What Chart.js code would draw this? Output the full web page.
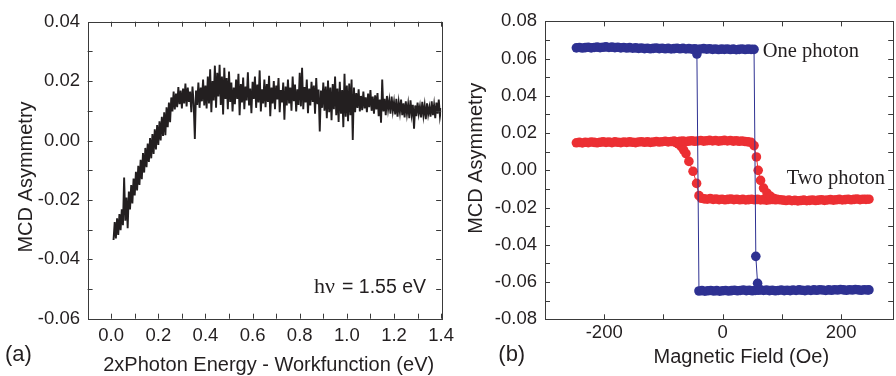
<!DOCTYPE html>
<html>
<head>
<meta charset="utf-8">
<script src="https://cdn.jsdelivr.net/npm/chart.js@4.4.1/dist/chart.umd.min.js"></script>
<style>
    html, body { margin: 0; padding: 0; background: #fff; }
    body { width: 896px; height: 376px; overflow: hidden; position: relative; }
    canvas { position: absolute; top: 0; }
    #spectrumChart { left: 0; }
    #loopChart { left: 460px; }
</style>
</head>
<body>
<canvas id="spectrumChart" width="460" height="376"></canvas>
<canvas id="loopChart" width="438" height="376"></canvas>
<script>
// Tick labels
const energyTicks = [0.0, 0.2, 0.4, 0.6, 0.8, 1.0, 1.2, 1.4];
const asymTicksA = [-0.06, -0.04, -0.02, 0.00, 0.02, 0.04];
const fieldTicks = [-200, 0, 200];
const asymTicksB = [-0.08, -0.06, -0.04, -0.02, 0.00, 0.02, 0.04, 0.06, 0.08];

// Panel (a): MCD asymmetry vs 2xPhoton energy - workfunction, sampled every 0.005 eV from 0.01 eV
const energyStart = 0.01;
const energyStep = 0.005;
const asymmetry = [
    -0.0335, -0.0275, -0.0330, -0.0262, -0.0318, -0.0248, -0.0302, -0.0232, -0.0285, -0.0125,
    -0.0270, -0.0192, -0.0295, -0.0172, -0.0232, -0.0150, -0.0212, -0.0128, -0.0185, -0.0105,
    -0.0168, -0.0085, -0.0150, -0.0065, -0.0130, -0.0042, -0.0108, -0.0025, -0.0090, -0.0010,
    -0.0072, 0.0008, -0.0060, 0.0022, -0.0045, 0.0038, -0.0030, 0.0052, -0.0015, 0.0065,
    0.0000, 0.0080, 0.0015, 0.0095, 0.0018, 0.0112, 0.0045, 0.0128, 0.0062, 0.0145,
    0.0098, 0.0165, 0.0105, 0.0158, 0.0112, 0.0180, 0.0122, 0.0168, 0.0108, 0.0175,
    0.0125, 0.0192, 0.0115, 0.0178, 0.0130, 0.0165, 0.0095, 0.0182, 0.0125, 0.0005,
    0.0168, 0.0120, 0.0195, 0.0110, 0.0178, 0.0132, 0.0205, 0.0118, 0.0185, 0.0108,
    0.0215, 0.0125, 0.0240, 0.0095, 0.0200, 0.0135, 0.0252, 0.0110, 0.0228, 0.0148,
    0.0255, 0.0120, 0.0215, 0.0088, 0.0245, 0.0140, 0.0210, 0.0105, 0.0232, 0.0130,
    0.0195, 0.0098, 0.0178, 0.0122, 0.0205, 0.0140, 0.0225, 0.0085, 0.0190, 0.0128,
    0.0212, 0.0105, 0.0182, 0.0135, 0.0230, 0.0118, 0.0175, 0.0092, 0.0198, 0.0140,
    0.0215, 0.0110, 0.0188, 0.0128, 0.0236, 0.0098, 0.0172, 0.0125, 0.0205, 0.0112,
    0.0190, 0.0130, 0.0218, 0.0082, 0.0178, 0.0125, 0.0200, 0.0105, 0.0185, 0.0138,
    0.0210, 0.0095, 0.0170, 0.0128, 0.0195, 0.0070, 0.0182, 0.0118, 0.0205, 0.0125,
    0.0178, 0.0100, 0.0215, 0.0132, 0.0188, 0.0098, 0.0172, 0.0120, 0.0228, 0.0115,
    0.0245, 0.0105, 0.0180, 0.0128, 0.0205, 0.0092, 0.0175, 0.0118, 0.0198, 0.0130,
    0.0185, 0.0090, 0.0210, 0.0122, 0.0172, 0.0030, 0.0168, 0.0110, 0.0195, 0.0100,
    0.0182, 0.0075, 0.0202, 0.0095, 0.0178, 0.0068, 0.0190, 0.0105, 0.0215, 0.0085,
    0.0175, 0.0062, 0.0198, 0.0090, 0.0170, 0.0045, 0.0225, 0.0080, 0.0185, 0.0065,
    0.0192, 0.0085, 0.0205, 0.0002, 0.0178, 0.0095, 0.0160, 0.0110, 0.0172, 0.0098,
    0.0150, 0.0102, 0.0165, 0.0108, 0.0145, 0.0095, 0.0158, 0.0112, 0.0170, 0.0100,
    0.0148, 0.0090, 0.0152, 0.0105, 0.0160, 0.0082, 0.0138, 0.0060, 0.0205, 0.0098,
    0.0140, 0.0085, 0.0150, 0.0105, 0.0135, 0.0090, 0.0148, 0.0100, 0.0130, 0.0088,
    0.0140, 0.0080, 0.0128, 0.0095, 0.0138, 0.0085, 0.0125, 0.0078, 0.0132, 0.0090,
    0.0122, 0.0075, 0.0135, 0.0088, 0.0120, 0.0040, 0.0118, 0.0082, 0.0128, 0.0090,
    0.0115, 0.0078, 0.0130, 0.0085, 0.0118, 0.0072, 0.0125, 0.0088, 0.0112, 0.0080,
    0.0132, 0.0085, 0.0120, 0.0075, 0.0128, 0.0090, 0.0138, 0.0082, 0.0110
];

// Panel (b): hysteresis loops, field (Oe) and MCD asymmetry
// one photon, field sweeping up
const oneUpField = [
    -247, -242, -237, -232, -227, -222, -217, -212, -207, -202,
    -197, -192, -187, -182, -177, -172, -167, -162, -157, -152,
    -147, -142, -137, -132, -127, -122, -117, -112, -107, -102,
    -97, -92, -87, -82, -77, -72, -67, -62, -57, -52,
    -47, -42, -37, -32, -27, -22, -17, -12, -7, -2,
    3, 8, 13, 18, 23, 28, 33, 38, 43, 48,
    53, 56, 59,
    64, 69, 74, 79, 84, 89, 94, 99, 104, 109,
    114, 119, 124, 129, 134, 139, 144, 149, 154, 159,
    164, 169, 174, 179, 184, 189, 194, 199, 204, 209,
    214, 219, 224, 229, 234, 239, 244, 247
];
const oneUpMcd = [
    0.0658, 0.0660, 0.0657, 0.0659, 0.0661, 0.0658, 0.0660, 0.0662, 0.0659, 0.0661,
    0.0663, 0.0660, 0.0662, 0.0659, 0.0661, 0.0658, 0.0660, 0.0657, 0.0659, 0.0656,
    0.0658, 0.0655, 0.0657, 0.0654, 0.0656, 0.0653, 0.0655, 0.0657, 0.0654, 0.0656,
    0.0653, 0.0655, 0.0652, 0.0654, 0.0656, 0.0653, 0.0655, 0.0652, 0.0654, 0.0651,
    0.0653, 0.0650, 0.0652, 0.0654, 0.0651, 0.0653, 0.0650, 0.0652, 0.0649, 0.0651,
    0.0650, 0.0652, 0.0649, 0.0651, 0.0648, 0.0650, 0.0652, 0.0649, 0.0651, 0.0650,
    0.0650, -0.0462, -0.0607,
    -0.0642, -0.0645, -0.0643, -0.0646, -0.0644, -0.0647, -0.0645, -0.0643, -0.0646, -0.0644,
    -0.0646, -0.0643, -0.0645, -0.0642, -0.0644, -0.0646, -0.0643, -0.0645, -0.0642, -0.0644,
    -0.0641, -0.0643, -0.0645, -0.0642, -0.0644, -0.0641, -0.0643, -0.0640, -0.0642, -0.0644,
    -0.0641, -0.0643, -0.0640, -0.0642, -0.0644, -0.0641, -0.0643, -0.0642
];
// one photon, field sweeping down (part not covered by the up sweep)
const oneDownField = [
    -43.5, -40, -35, -30, -25, -20, -15, -10, -5, 0, 5,
    10, 15, 20, 25, 30, 35, 40, 45, 50, 55, 60
];
const oneDownMcd = [
    0.0625, -0.0648, -0.0646, -0.0649, -0.0647, -0.0645, -0.0648, -0.0646, -0.0649, -0.0647, -0.0645,
    -0.0648, -0.0646, -0.0644, -0.0647, -0.0645, -0.0643, -0.0646, -0.0644, -0.0647, -0.0645, -0.0644
];
// two photon, field sweeping up
const twoUpField = [
    -247, -242, -237, -232, -227, -222, -217, -212, -207, -202,
    -197, -192, -187, -182, -177, -172, -167, -162, -157, -152,
    -147, -142, -137, -132, -127, -122, -117, -112, -107, -102,
    -97, -92, -87, -82, -77, -72, -67, -62, -57, -52,
    -47, -42, -37, -32, -27, -22, -17, -12, -7, -2,
    3, 8, 13, 18, 23, 28, 33, 38, 43, 48,
    53, 57, 60, 64, 69, 75, 81, 87,
    92, 97, 102, 107, 112, 117, 122, 127, 132, 137,
    142, 147, 152, 157, 162, 167, 172, 177, 182, 187,
    192, 197, 202, 207, 212, 217, 222, 227, 232, 237,
    242, 247
];
const twoUpMcd = [
    0.0148, 0.0150, 0.0147, 0.0151, 0.0149, 0.0152, 0.0150, 0.0148, 0.0151, 0.0153,
    0.0150, 0.0152, 0.0149, 0.0153, 0.0151, 0.0149, 0.0152, 0.0150, 0.0153, 0.0151,
    0.0149, 0.0152, 0.0154, 0.0151, 0.0153, 0.0150, 0.0152, 0.0155, 0.0152, 0.0154,
    0.0156, 0.0153, 0.0155, 0.0157, 0.0154, 0.0156, 0.0158, 0.0155, 0.0157, 0.0159,
    0.0156, 0.0158, 0.0160, 0.0157, 0.0159, 0.0161, 0.0158, 0.0160, 0.0157, 0.0159,
    0.0161, 0.0158, 0.0160, 0.0157, 0.0159, 0.0156, 0.0158, 0.0155, 0.0153, 0.0150,
    0.0133, 0.0072, 0.0000, -0.0054, -0.0095, -0.0122, -0.0140, -0.0152,
    -0.0156, -0.0158, -0.0160, -0.0162, -0.0159, -0.0163, -0.0161, -0.0164, -0.0162, -0.0160,
    -0.0163, -0.0161, -0.0159, -0.0162, -0.0160, -0.0158, -0.0161, -0.0159, -0.0157, -0.0160,
    -0.0158, -0.0156, -0.0159, -0.0157, -0.0155, -0.0158, -0.0156, -0.0154, -0.0157, -0.0155,
    -0.0156, -0.0155
];
// two photon, field sweeping down (part not covered by the up sweep)
const twoDownField = [
    -80, -75, -70, -66, -62, -57, -50, -44, -40,
    -36, -31, -26, -21, -16, -11, -6, -1, 4, 9,
    14, 19, 24, 29, 34, 39, 44, 49, 54, 59,
    64, 69, 74, 79, 84, 89
];
const twoDownMcd = [
    0.0150, 0.0142, 0.0128, 0.0110, 0.0090, 0.0048, -0.0005, -0.0070, -0.0136,
    -0.0150, -0.0153, -0.0155, -0.0152, -0.0156, -0.0154, -0.0157, -0.0155, -0.0158, -0.0156,
    -0.0154, -0.0157, -0.0155, -0.0158, -0.0156, -0.0159, -0.0157, -0.0155, -0.0158, -0.0156,
    -0.0159, -0.0157, -0.0160, -0.0158, -0.0156, -0.0158
];

const inkColor = '#231f20';
const frameColor = '#3a3a3a';
const blue = '#2e3192';
const red = '#ec2f33';

Chart.defaults.font.family = "'Liberation Sans', Arial, sans-serif";
Chart.defaults.color = inkColor;

function pairs(xs, ys) {
    return xs.map((x, i) => ({ x: x, y: ys[i] }));
}

function fixedTicks(values) {
    return scale => { scale.ticks = values.map(v => ({ value: v })); };
}

// Box frame with inward ticks on all four sides
const frameTicks = {
    id: 'frameTicks',
    afterDatasetsDraw(chart, args, opts) {
        const { ctx, chartArea: a, scales } = chart;
        const xs = scales.x, ys = scales.y;
        ctx.save();
        ctx.strokeStyle = frameColor;
        ctx.lineWidth = 1;
        ctx.strokeRect(Math.round(a.left) + 0.5, Math.round(a.top) + 0.5,
            Math.round(a.right - a.left), Math.round(a.bottom - a.top));
        ctx.beginPath();
        const nx = Math.round((opts.xMax - opts.xMin) / opts.xStep);
        for (let i = 1; i <= nx; i++) {
            const v = opts.xMin + i * opts.xStep;
            if (v > xs.max) break;
            const px = Math.round(xs.getPixelForValue(v)) + 0.5;
            ctx.moveTo(px, a.bottom); ctx.lineTo(px, a.bottom - opts.len);
            ctx.moveTo(px, a.top); ctx.lineTo(px, a.top + opts.len);
        }
        const ny = Math.round((ys.max - ys.min) / opts.yStep);
        for (let i = 1; i < ny; i++) {
            const v = ys.min + i * opts.yStep;
            const py = Math.round(ys.getPixelForValue(v)) + 0.5;
            ctx.moveTo(a.left, py); ctx.lineTo(a.left + opts.len, py);
            ctx.moveTo(a.right, py); ctx.lineTo(a.right - opts.len, py);
        }
        ctx.stroke();
        ctx.restore();
    }
};

// Axis titles, panel letters and annotations
const panelText = {
    id: 'panelText',
    afterDraw(chart, args, opts) {
        const ctx = chart.ctx;
        ctx.save();
        ctx.fillStyle = inkColor;
        opts.items.forEach(t => {
            ctx.save();
            ctx.font = t.font;
            ctx.textAlign = t.align || 'left';
            ctx.textBaseline = 'alphabetic';
            ctx.translate(t.x, t.y);
            if (t.rotate) ctx.rotate(t.rotate);
            ctx.fillText(t.text, 0, 0);
            ctx.restore();
        });
        ctx.restore();
    }
};

const tickFont = { size: 18.5 };
const sansTitle = "20px 'Liberation Sans', Arial, sans-serif";
const sansLetter = "22px 'Liberation Sans', Arial, sans-serif";
const serifNote = "20.5px 'Liberation Serif', 'Times New Roman', serif";

// Panel (a)
new Chart(document.getElementById('spectrumChart').getContext('2d'), {
    type: 'scatter',
    data: {
        datasets: [{
            data: asymmetry.map((y, i) => ({ x: energyStart + i * energyStep, y: y })),
            showLine: true,
            borderColor: inkColor,
            borderWidth: 1.9,
            pointRadius: 0,
            tension: 0
        }]
    },
    options: {
        responsive: false,
        animation: false,
        events: [],
        layout: { padding: { top: 21.7, right: 11.6, left: 0, bottom: 0 } },
        plugins: {
            legend: { display: false },
            tooltip: { enabled: false },
            frameTicks: { xMin: -0.1, xMax: 1.4, xStep: 0.1, yStep: 0.01, len: 5 },
            panelText: {
                items: [
                    { text: 'MCD Asymmetry', x: 31.5, y: 177, rotate: -Math.PI / 2, align: 'center', font: sansTitle },
                    { text: '2xPhoton Energy - Workfunction (eV)', x: 268.7, y: 371, align: 'center', font: sansTitle },
                    { text: '(a)', x: 5, y: 361, font: sansLetter },
                    { text: 'h\u03bd', x: 314, y: 293, font: "22px 'Liberation Serif', 'Times New Roman', serif" },
                    { text: '= 1.55 eV', x: 342, y: 293, font: "19.5px 'Liberation Sans', Arial, sans-serif" }
                ]
            }
        },
        scales: {
            x: {
                type: 'linear',
                min: -0.1,
                max: 1.4,
                grid: { display: false, drawTicks: false },
                border: { display: false },
                afterBuildTicks: fixedTicks(energyTicks),
                ticks: {
                    autoSkip: false,
                    maxRotation: 0,
                    padding: 6,
                    font: tickFont,
                    callback: v => v.toFixed(1)
                },
                afterFit: scale => { scale.height = 57.3; }
            },
            y: {
                min: -0.06,
                max: 0.04,
                grid: { display: false, drawTicks: false },
                border: { display: false },
                afterBuildTicks: fixedTicks(asymTicksA),
                ticks: {
                    padding: 7.6,
                    font: tickFont,
                    callback: v => v.toFixed(2)
                },
                afterFit: scale => { scale.width = 87.6; }
            }
        }
    },
    plugins: [frameTicks, panelText]
});

// Panel (b)
function loopSet(xs, ys, color) {
    return {
        data: pairs(xs, ys),
        showLine: true,
        borderColor: color,
        borderWidth: 1,
        backgroundColor: color,
        pointBackgroundColor: color,
        pointBorderWidth: 0,
        pointRadius: 4.8,
        tension: 0
    };
}

new Chart(document.getElementById('loopChart').getContext('2d'), {
    type: 'scatter',
    data: {
        datasets: [
            loopSet(oneUpField, oneUpMcd, blue),
            loopSet(oneDownField, oneDownMcd, blue),
            loopSet(twoUpField, twoUpMcd, red),
            loopSet(twoDownField, twoDownMcd, red)
        ]
    },
    options: {
        responsive: false,
        animation: false,
        events: [],
        layout: { padding: { top: 21.4, right: 0, left: 0, bottom: 0 } },
        plugins: {
            legend: { display: false },
            tooltip: { enabled: false },
            frameTicks: { xMin: -300, xMax: 300, xStep: 100, yStep: 0.01, len: 5 },
            panelText: {
                items: [
                    { text: 'MCD Asymmetry', x: 21.7, y: 158.3, rotate: -Math.PI / 2, align: 'center', font: sansTitle },
                    { text: 'Magnetic Field (Oe)', x: 281.3, y: 363, align: 'center', font: sansTitle },
                    { text: '(b)', x: 38.3, y: 361, font: sansLetter },
                    { text: 'One photon', x: 302.7, y: 56.7, font: serifNote },
                    { text: 'Two photon', x: 326.7, y: 184, font: serifNote }
                ]
            }
        },
        scales: {
            x: {
                type: 'linear',
                min: -300,
                max: 288,
                grid: { display: false, drawTicks: false },
                border: { display: false },
                afterBuildTicks: fixedTicks(fieldTicks),
                ticks: {
                    autoSkip: false,
                    maxRotation: 0,
                    padding: 3,
                    font: tickFont,
                    callback: v => String(v)
                },
                afterFit: scale => { scale.height = 56.7; }
            },
            y: {
                min: -0.08,
                max: 0.08,
                grid: { display: false, drawTicks: false },
                border: { display: false },
                afterBuildTicks: fixedTicks(asymTicksB),
                ticks: {
                    padding: 8,
                    font: tickFont,
                    callback: v => v.toFixed(2)
                },
                afterFit: scale => { scale.width = 85; }
            }
        }
    },
    plugins: [frameTicks, panelText]
});
</script>
</body>
</html>
